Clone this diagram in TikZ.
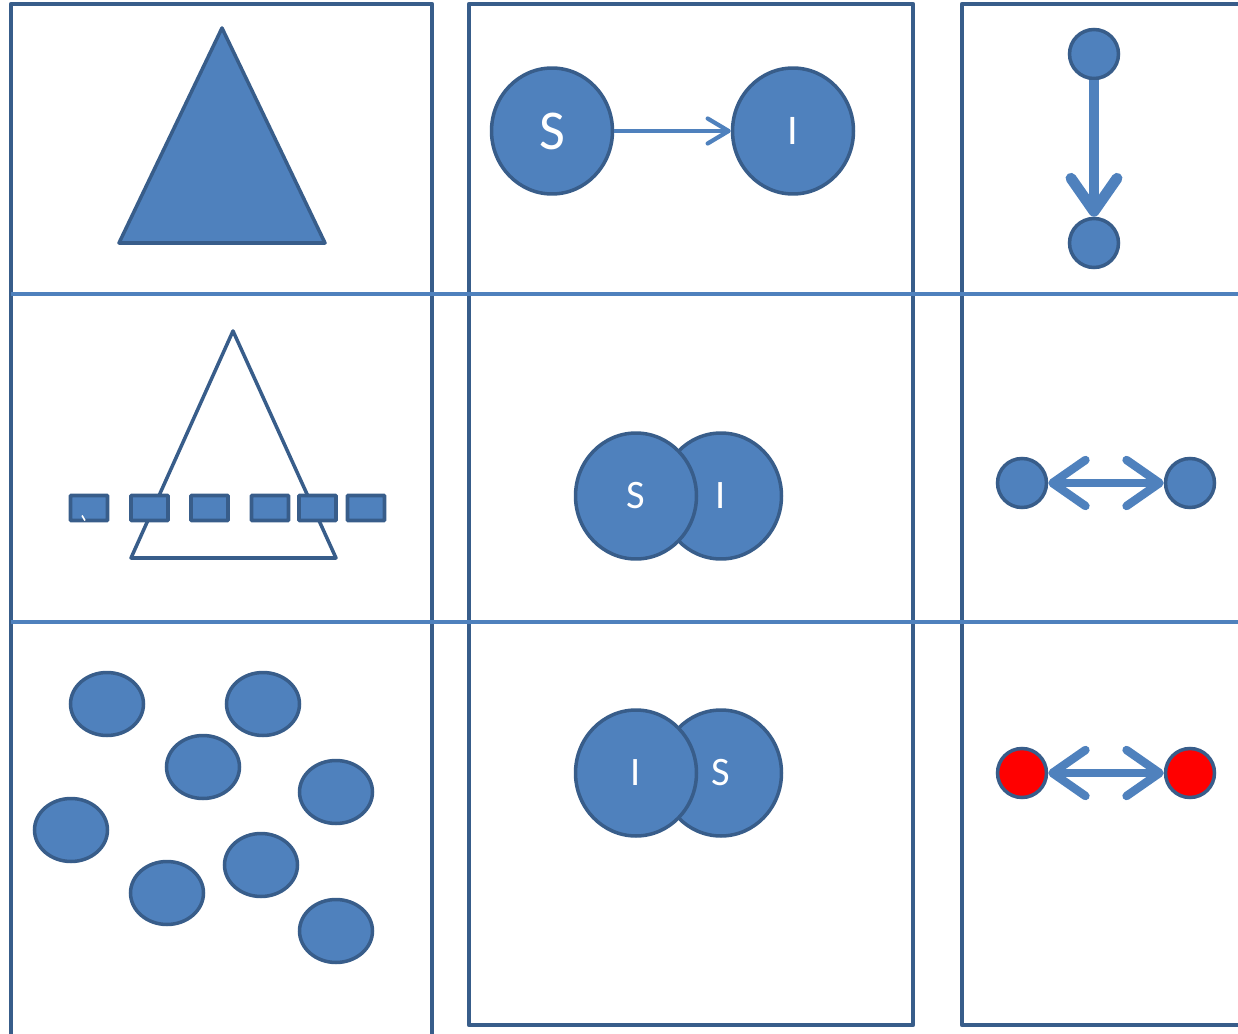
\documentclass[tikz,border=0pt]{standalone}
\usepackage{fontspec}
\setmainfont{Carlito}
\usetikzlibrary{shapes.geometric,arrows.meta}
\definecolor{fillblue}{HTML}{4F81BD}
\definecolor{edgeblue}{HTML}{385D8A}
\begin{document}
\begin{tikzpicture}[x=0.02cm,y=-0.02cm,
 frame/.style={draw=edgeblue,line width=2.4pt,line join=round},
 rule/.style={draw=fillblue,line width=2.8pt},
 blob/.style={ellipse,fill=fillblue,draw=edgeblue,line width=2pt,inner sep=0pt,text=white},
 big/.style={blob,minimum width=2.42cm,minimum height=2.52cm,font=\fontsize{23}{23}\selectfont},
 small/.style={blob,minimum width=0.98cm,minimum height=0.98cm},
 oval/.style={blob,minimum width=1.46cm,minimum height=1.26cm},
 box/.style={rectangle,fill=fillblue,draw=edgeblue,line width=2.2pt,minimum width=0.74cm,minimum height=0.5cm,inner sep=0pt,rounded corners=0.5pt},
 link/.style={draw=fillblue},
 tri/.style={draw=edgeblue,line width=2pt,line join=round},
 mybarb/.tip={Straight Barb[round,length=0.66cm,width=0.92cm]},
]
\useasboundingbox (0,0) rectangle (1238,1034);
% frames
\draw[frame] (11,1045) -- (11,4) -- (432,4) -- (432,1045);
\draw[frame] (469,4) rectangle (913,1025);
\draw[frame] (1250,4) -- (962,4) -- (962,1025) -- (1250,1025);
\draw[rule] (11,294) -- (1250,294);
\draw[rule] (11,622) -- (1250,622);
% column 1
\draw[tri,fill=fillblue] (222,28) -- (325,243) -- (119,243) -- cycle;
\draw[tri] (233,331) -- (336,558) -- (131,558) -- cycle;
\node[box] (q1) at (89,508) {};
\node[box] (q2) at (149.5,508) {};
\node[box] (q3) at (209.5,508) {};
\node[box] (q4) at (270,508) {};
\node[box] (q5) at (317.5,508) {};
\node[box] (q6) at (366,508) {};
\draw[white,line width=0.9pt] (82,515.5) -- (85,520.5);
\node[oval] (e1) at (107,704) {};
\node[oval] (e2) at (263,704) {};
\node[oval] (e3) at (203,767) {};
\node[oval] (e4) at (336,792) {};
\node[oval] (e5) at (71,830) {};
\node[oval] (e6) at (261,865) {};
\node[oval] (e7) at (167,893) {};
\node[oval] (e8) at (336,931) {};
% column 2
\node[big,font=\fontsize{32}{32}\selectfont] (s1) at (552,131) {S};
\node[big,font=\fontsize{24}{24}\selectfont] (i1) at (793,131) {I};
\draw[link,line width=2.4pt,-{Straight Barb[round,length=0.42cm,width=0.5cm]}] (s1) -- (i1);
\node[big] (i2) at (721,496) {I};
\node[big] (s2) at (636,496) {S};
\node[big] (s3) at (721,773) {S};
\node[big] (i3) at (636,773) {I};
% column 3
\node[small] (a1) at (1094,54) {};
\node[small] (b1) at (1094,243) {};
\draw[link,line width=6.2pt,-{mybarb}] (a1) -- (b1);
\node[small] (a2) at (1022,483) {};
\node[small] (b2) at (1190,483) {};
\draw[link,line width=4.8pt,{mybarb}-{mybarb}] (a2) -- (b2);
\node[small,fill=red] (a3) at (1022,773) {};
\node[small,fill=red] (b3) at (1190,773) {};
\draw[link,line width=4.8pt,{mybarb}-{mybarb}] (a3) -- (b3);
\end{tikzpicture}
\end{document}
